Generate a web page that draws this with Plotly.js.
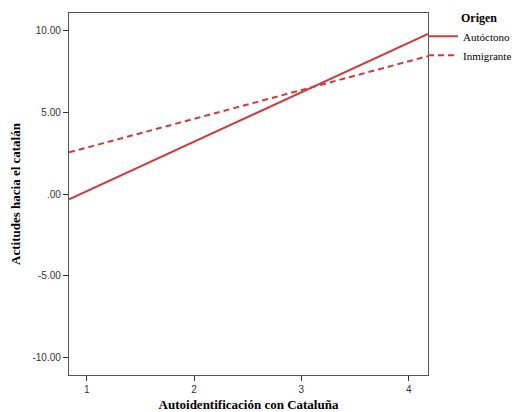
<!DOCTYPE html>
<html><head><meta charset="utf-8">
<script src="https://cdn.plot.ly/plotly-3.0.1.min.js"></script>
<style>body{margin:0}#c{width:517px;height:412px}</style>
</head><body><div id="c"></div>
<script>
const xEnds = [0.835, 4.18];
const autoctono = [-0.32, 9.76];
const inmigrante = [2.54, 8.41];
const seriesNames = ['Autóctono', 'Inmigrante'];
const legendTitle = 'Origen';
const xTicks = [1, 2, 3, 4];
const yTicks = [-10, -5, 0, 5, 10];
const yTickText = ['-10.00', '-5.00', '.00', '5.00', '10.00'];

const red = '#cf3a3d';
const traces = [
  {x: xEnds, y: autoctono, name: seriesNames[0], mode: 'lines', line: {color: red, width: 2, dash: 'solid'}},
  {x: xEnds, y: inmigrante, name: seriesNames[1], mode: 'lines', line: {color: red, width: 2, dash: '6px,4px'}}
];
const serif = 'Liberation Serif, Times New Roman, serif';
const sans = 'Liberation Sans, Arial, sans-serif';
const pad = '&nbsp;'.repeat(12);
const layout = {
  width: 517, height: 412,
  margin: {l: 69, r: 89, t: 13, b: 37, autoexpand: false},
  paper_bgcolor: '#fff', plot_bgcolor: '#fff',
  showlegend: true,
  legend: {
    xref: 'container', yref: 'container',
    x: 1.0, xanchor: 'right', y: 0.985, yanchor: 'top',
    bgcolor: 'rgba(0,0,0,0)',
    title: {text: pad + '<b>' + legendTitle + '</b>', font: {family: serif, size: 12, color: '#000'}},
    font: {family: serif, size: 11, color: '#000'},
    tracegroupgap: 0, itemwidth: 30
  },
  xaxis: {
    range: xEnds, tickvals: xTicks, ticktext: xTicks.map(String),
    showgrid: false, zeroline: false, showline: true, mirror: true,
    linecolor: '#555', linewidth: 1.2,
    ticks: 'outside', ticklen: 5, tickcolor: '#333',
    tickfont: {family: sans, size: 10, color: '#333'},
    title: {text: '<b>Autoidentificación con Cataluña</b>', font: {family: serif, size: 13, color: '#000'}, standoff: 12}
  },
  yaxis: {
    range: [-11.04, 11.04], tickvals: yTicks, ticktext: yTickText,
    showgrid: false, zeroline: false, showline: true, mirror: true,
    linecolor: '#555', linewidth: 1.2,
    ticks: 'outside', ticklen: 5, tickcolor: '#333',
    tickfont: {family: sans, size: 10, color: '#333'},
    title: {text: '<b>Actitudes hacia el catalán</b>', font: {family: serif, size: 13, color: '#000'}, standoff: 8}
  }
};
Plotly.newPlot('c', traces, layout, {staticPlot: true, displayModeBar: false});
</script></body></html>
